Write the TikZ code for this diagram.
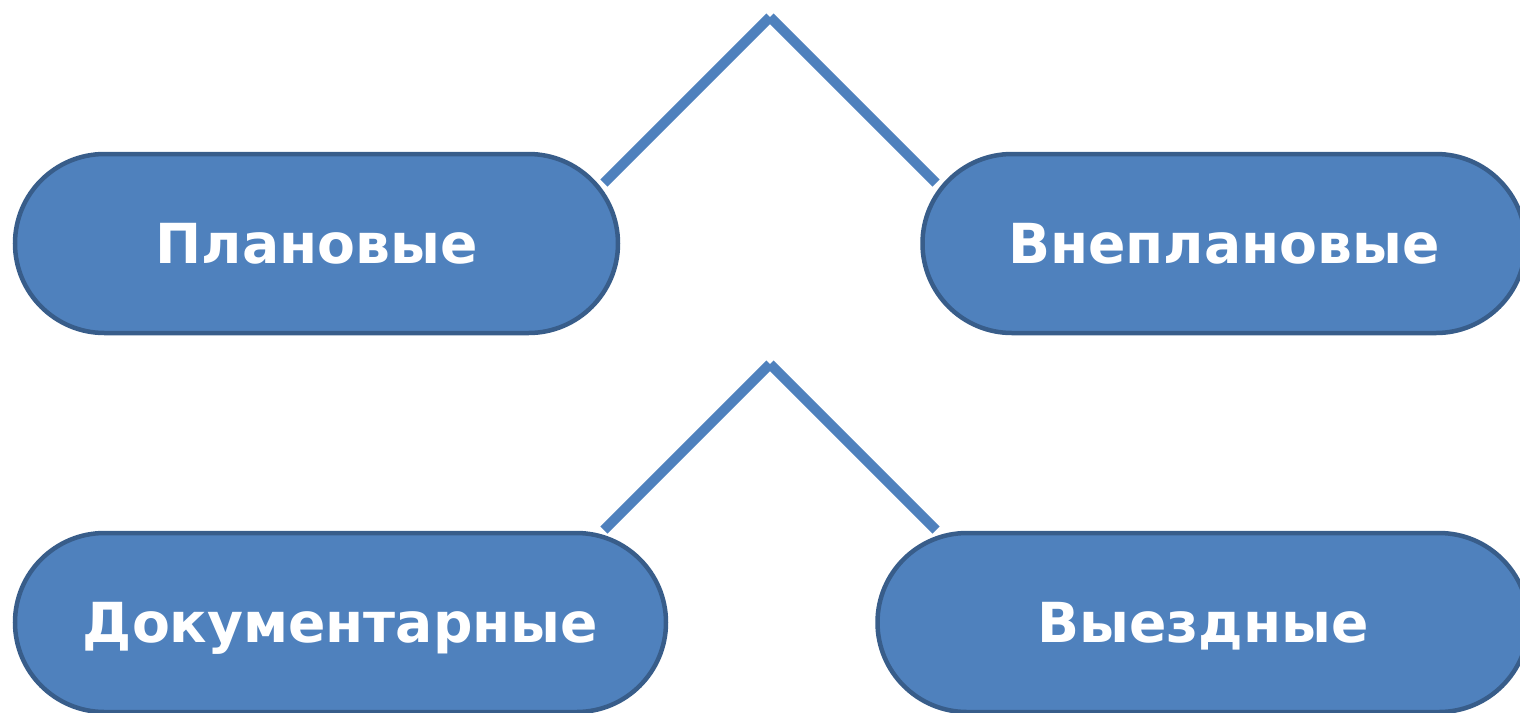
\documentclass[tikz,border=0pt]{standalone}
\usepackage{fontspec}
\setmainfont{DejaVu Sans}
\usepackage{tikz}
\usetikzlibrary{positioning,shapes.misc}
\definecolor{kindfill}{HTML}{4F81BD}
\definecolor{kinddraw}{HTML}{385D8A}
\tikzset{
  kind/.style   = {shape=rounded rectangle, draw=kinddraw, fill=kindfill,
                   line width=0.045cm, inner sep=0pt, minimum height=1.79cm,
                   text=white, text depth=0pt,
                   font=\fontsize{15.7}{18}\selectfont\bfseries},
  branch/.style = {draw=kindfill, line width=0.1cm}
}

\begin{document}
\begin{tikzpicture}
\path [use as bounding box] (0,0) rectangle (15.20,-7.12);
% kinds of checks
\node [kind, minimum width=6.03cm] (plan) at (3.165,-2.435) {Плановые};
\node [kind, minimum width=6.03cm, right=3cm of plan] (vneplan) {Внеплановые};
% forms of checks
\node [kind, minimum width=6.51cm] (doc) at (3.405,-6.225) {Документарные};
\node [kind, minimum width=6.51cm, right=2.07cm of doc] (vyezd) {Выездные};
% branches
\coordinate (top1) at (7.70,-0.17);
\coordinate (planend) at (6.04,-1.83);
\coordinate (vneplanend) at (9.36,-1.83);
\coordinate (top2) at (7.70,-3.64);
\coordinate (docend) at (6.04,-5.30);
\coordinate (vyezdend) at (9.36,-5.30);
\draw [branch] (top1) -- (planend);
\draw [branch] (top1) -- (vneplanend);
\draw [branch] (top2) -- (docend);
\draw [branch] (top2) -- (vyezdend);
\end{tikzpicture}
\end{document}
